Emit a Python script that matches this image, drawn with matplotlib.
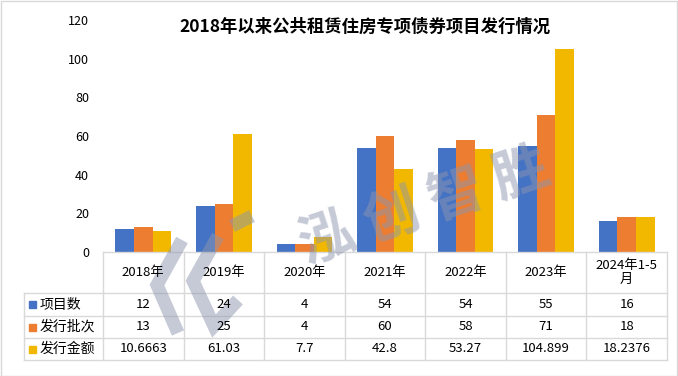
import matplotlib.pyplot as plt
from matplotlib.lines import Line2D
from matplotlib.patches import Rectangle

plt.rcParams['font.family'] = ['Noto Sans CJK SC', 'DejaVu Sans']

# data
years = ['2018年', '2019年', '2020年', '2021年', '2022年', '2023年', '2024年1-5\n月']
series_names = ['项目数', '发行批次', '发行金额']
projects = [12, 24, 4, 54, 54, 55, 16]
batches = [13, 25, 4, 60, 58, 71, 18]
amounts = [10.6663, 61.03, 7.7, 42.8, 53.27, 104.899, 18.2376]
amount_labels = ['10.6663', '61.03', '7.7', '42.8', '53.27', '104.899', '18.2376']
colors = ['#4472C4', '#ED7D31', '#F2B800']

W, H = 678, 376
def fx(px):
    return px / W
def fy(py):
    return 1 - py / H

fig = plt.figure(figsize=(W / 100, H / 100), dpi=100)

# plot area
left, right, top, bottom = 103, 667, 20, 252
ax = fig.add_axes([fx(left), fy(bottom), fx(right - left), (bottom - top) / H])
n = len(years)
bw = 0.23
xs = [i + 0.5 for i in range(n)]
for k, vals in enumerate([projects, batches, amounts]):
    ax.bar([x + (k - 1) * bw for x in xs], vals, width=bw, color=colors[k], zorder=2)
ax.set_xlim(0, n)
ax.set_ylim(0, 120)
ax.set_yticks(range(0, 121, 20))
ax.set_xticks([])
ax.tick_params(axis='y', length=0, pad=10, labelsize=9)
for s in ax.spines.values():
    s.set_visible(False)

fig.text(fx(365), fy(27), '2018年以来公共租赁住房专项债券项目发行情况',
         ha='center', va='center', fontsize=12.5, fontweight='bold')

# data table
grid = '#D9D9D9'
col_w = (right - left) / n
rows_y = [252, 293, 316, 338, 360]
lab_left = 24

def hline(x0, x1, y):
    fig.add_artist(Line2D([fx(x0), fx(x1)], [fy(y), fy(y)], color=grid, lw=1))

def vline(x, y0, y1):
    fig.add_artist(Line2D([fx(x), fx(x)], [fy(y0), fy(y1)], color=grid, lw=1))

hline(left, right, rows_y[0])
for y in rows_y[1:]:
    hline(lab_left, right, y)
for i in range(n + 1):
    vline(left + i * col_w, rows_y[0], rows_y[-1])
vline(lab_left, rows_y[1], rows_y[-1])

for i, yr in enumerate(years):
    cx = left + (i + 0.5) * col_w
    fig.text(fx(cx), fy((rows_y[0] + rows_y[1]) / 2), yr, ha='center', va='center',
             fontsize=9.5, linespacing=1.1, zorder=4)

table_rows = [[str(v) for v in projects], [str(v) for v in batches], amount_labels]
for r, (name, vals) in enumerate(zip(series_names, table_rows)):
    cy = (rows_y[r + 1] + rows_y[r + 2]) / 2
    fig.add_artist(Rectangle((fx(29), fy(cy + 3.5)), 7 / W, 7 / H, color=colors[r],
                             transform=fig.transFigure))
    fig.text(fx(40), fy(cy), name, ha='left', va='center', fontsize=10, zorder=4)
    for i, v in enumerate(vals):
        cx = left + (i + 0.5) * col_w
        fig.text(fx(cx), fy(cy), v, ha='center', va='center', fontsize=9.5, zorder=4)

# watermark: text and a rough version of the logo
wm = '#8C96AE'
fig.text(fx(424), fy(207), '泓 创 智 胜', ha='center', va='center', fontsize=40,
         fontweight='bold', rotation=18.5, color=wm, alpha=0.5, zorder=3)
logo = [
    [(182, 240), (157, 285), (178, 333)],
    [(218, 236), (193, 281), (214, 326), (238, 300)],
    [(232, 226), (252, 216)],
]
for pts in logo:
    fig.add_artist(Line2D([fx(p[0]) for p in pts], [fy(p[1]) for p in pts], color=wm,
                          lw=9.5, alpha=0.5, solid_capstyle='butt', solid_joinstyle='miter',
                          zorder=3))

# chart border
fig.add_artist(Rectangle((0.5 / W, 0.5 / H), 1 - 1.5 / W, 1 - 1.5 / H, fill=False,
                         edgecolor='#D9D9D9', lw=1, transform=fig.transFigure))

fig.savefig('out.png', dpi=100)
